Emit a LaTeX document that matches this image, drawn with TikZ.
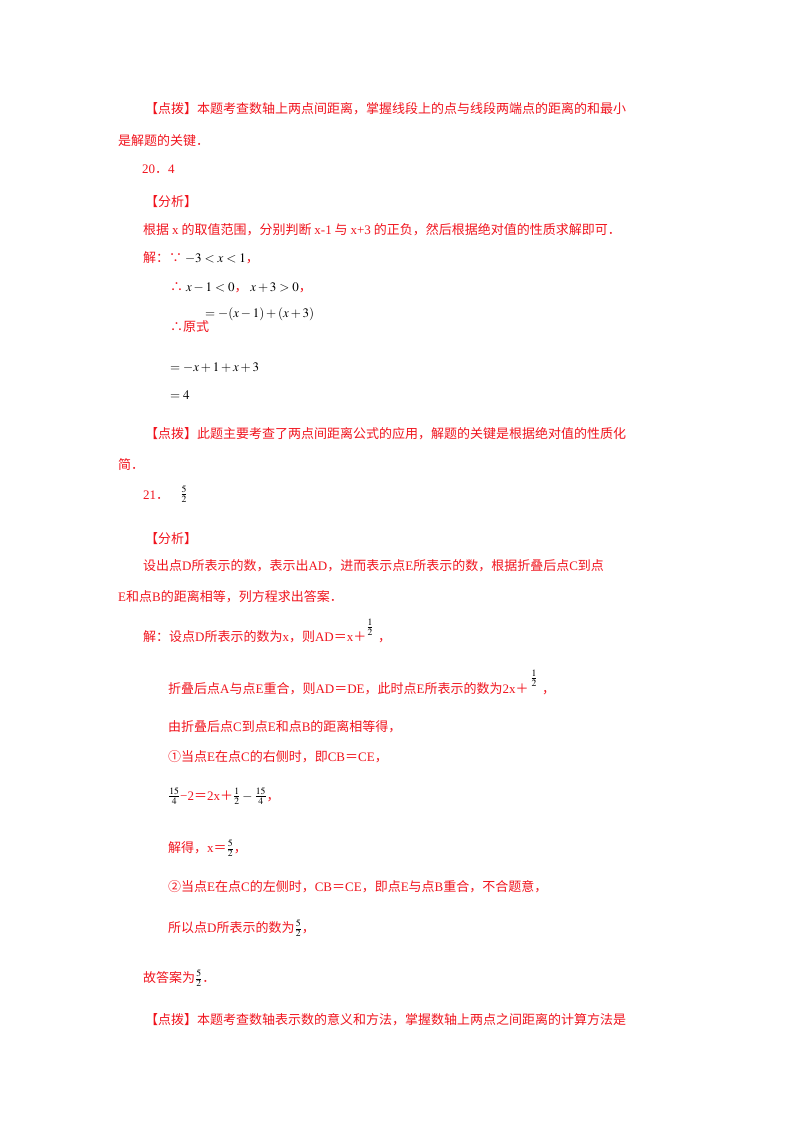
\documentclass[tikz,border=0pt]{standalone}
\usepackage{mathptmx}
\usepackage{fontspec}
\setmainfont{Noto Sans CJK SC}
\newfontfamily\lat{Liberation Serif}
\definecolor{tred}{RGB}{240,20,30}
\newcommand{\m}[1]{{\color{black}$#1$}}
\newcommand{\lt}[1]{{\lat #1}}
\begin{document}
\begin{tikzpicture}[x=1pt,y=-1pt,
  ln/.style={anchor=base west,inner sep=0,text=tred,font=\fontsize{13}{13}\selectfont},
  fr/.style={anchor=center,inner sep=0,font=\fontsize{13}{13}\selectfont}]
\useasboundingbox (0,0) rectangle (800,1132);
\node[ln] (l1) at (145,113) {【点拨】本题考查数轴上两点间距离，掌握线段上的点与线段两端点的距离的和最小};
\node[ln] (l2) at (118,145) {是解题的关键．};
\node[ln] (l3) at (142,173) {\lt{20}．\lt{4}};
\node[ln] (l4) at (145,206) {【分析】};
\node[ln] (l5) at (143,234) {根据 \lt{x} 的取值范围，分别判断 \lt{x-1} 与 \lt{x+3} 的正负，然后根据绝对值的性质求解即可．};
\node[ln] (l6) at (143,262) {解：∵ \m{-3<x<1}，};
\node[ln] (l7) at (170,291) {∴ \m{x-1<0}，\ \m{x+3>0}，};
\node[ln] (l8) at (170,331) {∴原式};
\node[ln] (l8b) at (205,317) {\m{=-(x-1)+(x+3)}};
\node[ln] (l9) at (170,371) {\m{=-x+1+x+3}};
\node[ln] (l10) at (170,399) {\m{=4}};
\node[ln] (l11) at (145,438) {【点拨】此题主要考查了两点间距离公式的应用，解题的关键是根据绝对值的性质化};
\node[ln] (l12) at (118,469) {简．};
\node[ln] (l13) at (143,499) {\lt{21}．};
\node[fr] (f1) at (184,494) {\m{\frac{5}{2}}};
\node[ln] (l14) at (145,543) {【分析】};
\node[ln] (l15) at (143,570) {设出点\lt{D}所表示的数，表示出\lt{AD}，进而表示点\lt{E}所表示的数，根据折叠后点\lt{C}到点};
\node[ln] (l16) at (118,601) {\lt{E}和点\lt{B}的距离相等，列方程求出答案．};
\node[ln] (l17) at (143,641) {解：设点\lt{D}所表示的数为\lt{x}，则\lt{AD}＝\lt{x}＋};
\node[fr] (f2) at (370,627) {\m{\frac{1}{2}}};
\node[ln] (l17b) at (378,641) {，};
\node[ln] (l18) at (168,693) {折叠后点\lt{A}与点\lt{E}重合，则\lt{AD}＝\lt{DE}，此时点\lt{E}所表示的数为\lt{2x}＋};
\node[fr] (f3) at (534,678) {\m{\frac{1}{2}}};
\node[ln] (l18b) at (542,693) {，};
\node[ln] (l19) at (168,731) {由折叠后点\lt{C}到点\lt{E}和点\lt{B}的距离相等得，};
\node[ln] (l20) at (168,761) {①当点\lt{E}在点\lt{C}的右侧时，即\lt{CB}＝\lt{CE}，};
\node[ln] (l21) at (168,800) {\m{\frac{15}{4}}\lt{−2}＝\lt{2x}＋\m{\frac{1}{2}}\,\m{-}\,\m{\frac{15}{4}}，};
\node[ln] (l22) at (168,852) {解得，\lt{x}＝\m{\frac{5}{2}}，};
\node[ln] (l23) at (168,891) {②当点\lt{E}在点\lt{C}的左侧时，\lt{CB}＝\lt{CE}，即点\lt{E}与点\lt{B}重合，不合题意，};
\node[ln] (l24) at (168,932) {所以点\lt{D}所表示的数为\m{\frac{5}{2}}，};
\node[ln] (l25) at (143,982) {故答案为\m{\frac{5}{2}}．};
\node[ln] (l26) at (145,1024) {【点拨】本题考查数轴表示数的意义和方法，掌握数轴上两点之间距离的计算方法是};
\end{tikzpicture}
\end{document}
